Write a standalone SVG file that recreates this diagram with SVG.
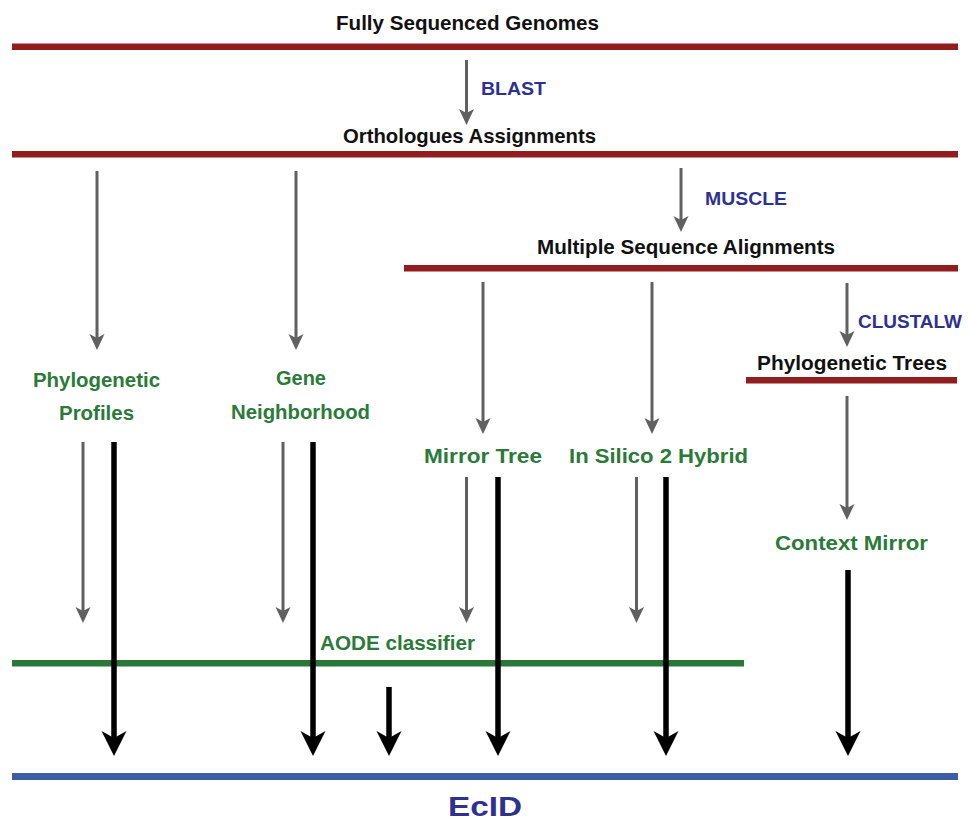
<svg xmlns="http://www.w3.org/2000/svg" width="968" height="824" viewBox="0 0 968 824">
<style>
text{font-family:"Liberation Sans",Arial,sans-serif;font-weight:bold;}
.hd{fill:#111;font-size:20px;}
.tool{fill:#2e3190;font-size:18px;}
.gr{fill:#2b7a3a;font-size:20px;}
.red{fill:#921d1f;}
.grn{fill:#2b773a;}
.blu{fill:#3d5ca8;}
.ga{stroke:#606060;stroke-width:3;fill:none;marker-end:url(#gh);}
.ba{stroke:#000;stroke-width:5.5;fill:none;marker-end:url(#bh);}
</style>
<defs>
<marker id="gh" markerUnits="userSpaceOnUse" markerWidth="18" markerHeight="18" viewBox="0 -9 18 18" refX="8" refY="0" orient="auto">
<path d="M0,-7.5 L16,0 L0,7.5 L4,0 Z" fill="#606060"/>
</marker>
<marker id="bh" markerUnits="userSpaceOnUse" markerWidth="28" markerHeight="28" viewBox="0 -14 28 28" refX="12" refY="0" orient="auto">
<path d="M0,-12.5 L25,0 L0,12.5 L7,0 Z" fill="#000"/>
</marker>
</defs>
<rect width="968" height="824" fill="#fff"/>

<g id="genomes">
<text class="hd" x="336" y="30" textLength="263" lengthAdjust="spacingAndGlyphs">Fully Sequenced Genomes</text>
<rect class="red" x="12" y="43.5" width="946" height="6.5"/>
</g>
<g id="orthologues">
<text class="hd" x="343" y="143" textLength="253" lengthAdjust="spacingAndGlyphs">Orthologues Assignments</text>
<rect class="red" x="12" y="151" width="946" height="6.5"/>
</g>
<g id="msa">
<text class="hd" x="537" y="254" textLength="298" lengthAdjust="spacingAndGlyphs">Multiple Sequence Alignments</text>
<rect class="red" x="404" y="265" width="554" height="6.5"/>
</g>
<g id="phylotrees">
<text class="hd" x="757" y="370" textLength="190" lengthAdjust="spacingAndGlyphs">Phylogenetic Trees</text>
<rect class="red" x="746" y="377" width="211" height="6.5"/>
</g>
<g id="phyloprofiles">
<text class="gr" x="33" y="387" textLength="127" lengthAdjust="spacingAndGlyphs">Phylogenetic</text>
<text class="gr" x="59" y="420" textLength="75" lengthAdjust="spacingAndGlyphs">Profiles</text>
</g>
<g id="geneneighborhood">
<text class="gr" x="276" y="385" textLength="50" lengthAdjust="spacingAndGlyphs">Gene</text>
<text class="gr" x="231" y="419" textLength="139" lengthAdjust="spacingAndGlyphs">Neighborhood</text>
</g>
<g id="mirrortree">
<text class="gr" x="424" y="463" textLength="118" lengthAdjust="spacingAndGlyphs">Mirror Tree</text>
</g>
<g id="insilico">
<text class="gr" x="569" y="463" textLength="179" lengthAdjust="spacingAndGlyphs">In Silico 2 Hybrid</text>
</g>
<g id="contextmirror">
<text class="gr" x="775" y="550" textLength="153" lengthAdjust="spacingAndGlyphs">Context Mirror</text>
</g>
<g id="aode">
<text class="gr" x="320" y="650" textLength="155" lengthAdjust="spacingAndGlyphs">AODE classifier</text>
<rect class="grn" x="12" y="660" width="732" height="6.5"/>
</g>
<g id="ecid">
<rect class="blu" x="12" y="773" width="946" height="7"/>
<text x="448" y="816" fill="#2e3190" font-size="28" textLength="74" lengthAdjust="spacingAndGlyphs">EcID</text>
</g>

<g id="connectors">
<line class="ga" x1="466.5" y1="60" x2="466.5" y2="117"/>
<text class="tool" x="481" y="95" textLength="65" lengthAdjust="spacingAndGlyphs">BLAST</text>
<line class="ga" x1="681" y1="168" x2="681" y2="224"/>
<text class="tool" x="705" y="205" textLength="82" lengthAdjust="spacingAndGlyphs">MUSCLE</text>
<line class="ga" x1="847" y1="283" x2="847" y2="339"/>
<text class="tool" x="858" y="328" textLength="104" lengthAdjust="spacingAndGlyphs">CLUSTALW</text>
<line class="ga" x1="97" y1="171" x2="97" y2="342"/>
<line class="ga" x1="296" y1="171" x2="296" y2="342"/>
<line class="ga" x1="483" y1="282" x2="483" y2="426"/>
<line class="ga" x1="652" y1="282" x2="652" y2="426"/>
<line class="ga" x1="847" y1="396" x2="847" y2="512"/>
<line class="ga" x1="83" y1="442" x2="83" y2="615"/>
<line class="ga" x1="283" y1="442" x2="283" y2="615"/>
<line class="ga" x1="466.5" y1="477" x2="466.5" y2="615"/>
<line class="ga" x1="636.5" y1="477" x2="636.5" y2="615"/>
<line class="ba" x1="114" y1="442" x2="114" y2="743"/>
<line class="ba" x1="313" y1="442" x2="313" y2="743"/>
<line class="ba" x1="389" y1="687" x2="389" y2="743"/>
<line class="ba" x1="498" y1="477" x2="498" y2="743"/>
<line class="ba" x1="666" y1="477" x2="666" y2="743"/>
<line class="ba" x1="848" y1="570" x2="848" y2="743"/>
</g>
</svg>
